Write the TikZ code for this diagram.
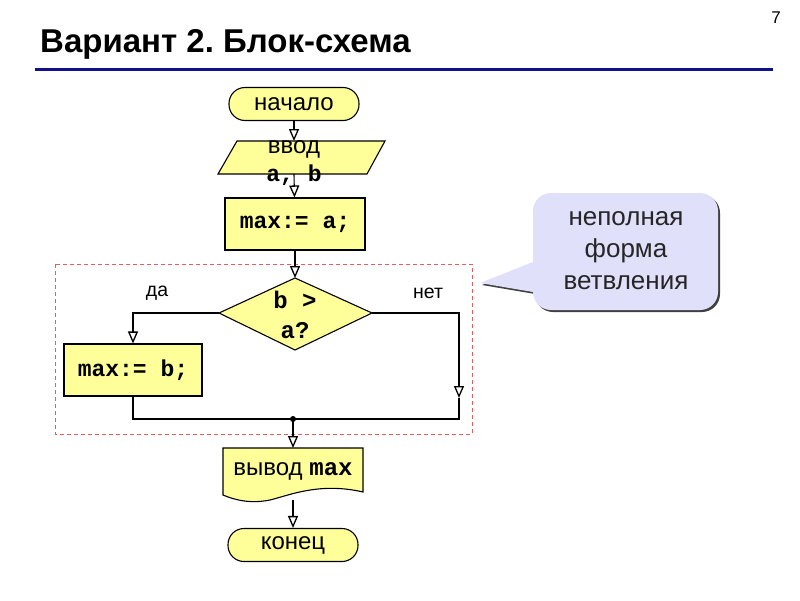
\documentclass[tikz,border=0pt]{standalone}
\usepackage{fontspec}
\setmainfont{Liberation Sans}
\newfontfamily\cour{Liberation Mono}
\usetikzlibrary{arrows.meta}
\frenchspacing
\definecolor{fillY}{HTML}{FFFF99}
\definecolor{navy}{HTML}{10108A}
\definecolor{dashred}{HTML}{E06060}
\definecolor{lav}{HTML}{E0E0FA}
\tikzset{
  shp/.style={draw=black, fill=fillY, line width=1.1pt},
  term/.style={shp, rounded corners=16pt, minimum width=130pt, minimum height=33pt, inner sep=0pt, font=\fontsize{24}{26}\selectfont},
  blk/.style={shp, minimum width=140pt, minimum height=52pt, inner sep=0pt, font=\cour\bfseries\fontsize{23}{24}\selectfont},
  lbl/.style={inner sep=0pt, font=\fontsize{24}{26}\selectfont},
  codel/.style={inner sep=0pt, font=\cour\bfseries\fontsize{23}{24}\selectfont},
  arr/.style={-{Triangle[open,length=12pt,width=10pt,line width=1.3pt]}, line width=1.1pt},
  ln/.style={line width=1.1pt},
  side/.style={inner sep=0pt, font=\fontsize{19.5}{20}\selectfont},
}
\begin{document}
\begin{tikzpicture}[x=1pt,y=-1pt]
\useasboundingbox (0,0) rectangle (800,600);
% title
\node[anchor=base west, inner sep=0pt, font=\bfseries\fontsize{33}{36}\selectfont] (title) at (40,52) {Вариант 2. Блок-схема};
\node[anchor=base east, inner sep=0pt, font=\fontsize{17}{18}\selectfont] (pnum) at (781,23) {7};
\draw[navy, line width=3pt] (35,69) -- (773,69);
% dashed region
\draw[dashred, line width=1pt, dash pattern=on 4pt off 3pt] (55,264) rectangle (472,434);
% callout
\begin{scope}[shift={(2,2)}]
\fill[black!75] (480,283) -- (533,262) [rounded corners=18pt] -- (533,193) -- (718,193) -- (718,310) -- (533,310) [sharp corners] -- (533,292) -- cycle;
\end{scope}
\fill[lav] (480,283) -- (533,262) [rounded corners=18pt] -- (533,193) -- (718,193) -- (718,310) -- (533,310) [sharp corners] -- (533,292) -- cycle;
\node[align=center, font=\fontsize{26}{32}\selectfont, text=black!85] (note) at (626,251) {неполная\\форма\\ветвления};
% start
\node[term] (start) at (294,104) {начало};
% input parallelogram
\draw[shp] (237,141) -- (385,141) -- (367,174) -- (218,174) -- cycle;
\coordinate (intop) at (294,141);
\coordinate (inbot) at (294,174);
\node[lbl] (inA) at (294,149) {ввод};
\node[codel] (inB) at (294,175) {a, b};
% max:=a
\node[blk] (seta) at (295,224) {max:= a;};
% diamond
\draw[shp] (295,278) -- (372,313) -- (295,350) -- (219,313) -- cycle;
\coordinate (dtop) at (295,278);
\coordinate (dleft) at (219,313);
\coordinate (dright) at (372,313);
\node[codel, align=center, font=\cour\bfseries\fontsize{24}{30}\selectfont] (cond) at (295,315) {b >\\a?};
\node[side] (yes) at (157,293) {да};
\node[side] (no) at (428,293) {нет};
% max:=b
\node[blk, minimum width=138pt] (setb) at (133,370) {max:= b;};
% merge
\coordinate (rdown) at (459,398);
\coordinate (rcorner) at (459,419);
\coordinate (lcorner) at (133,419);
\coordinate (join) at (293,419);
% output document shape
\draw[shp] (223,448) -- (363,448) -- (363,492) .. controls (320,482) and (290,495) .. (270,500) .. controls (250,504) and (235,500) .. (223,495) -- cycle;
\coordinate (outtop) at (293,448);
\coordinate (outbot) at (293,500);
\node[inner sep=0pt, font=\fontsize{24}{26}\selectfont] (outtxt) at (293,471) {вывод \cour\bfseries max};
% end
\node[term] (stop) at (293,545) {конец};
% connectors
\draw[arr] (start) -- (intop);
\draw[arr] (inbot) -- (seta);
\draw[arr] (seta) -- (dtop);
\draw[arr] (dleft) -| (setb);
\draw[arr] (dright) -| (rdown);
\draw[ln] (rdown) -- (rcorner) -- (lcorner) -- (setb.south);
\fill (join) circle (3pt);
\draw[arr] (join) -- (outtop);
\draw[arr] (outbot) -- (stop);
\end{tikzpicture}
\end{document}
